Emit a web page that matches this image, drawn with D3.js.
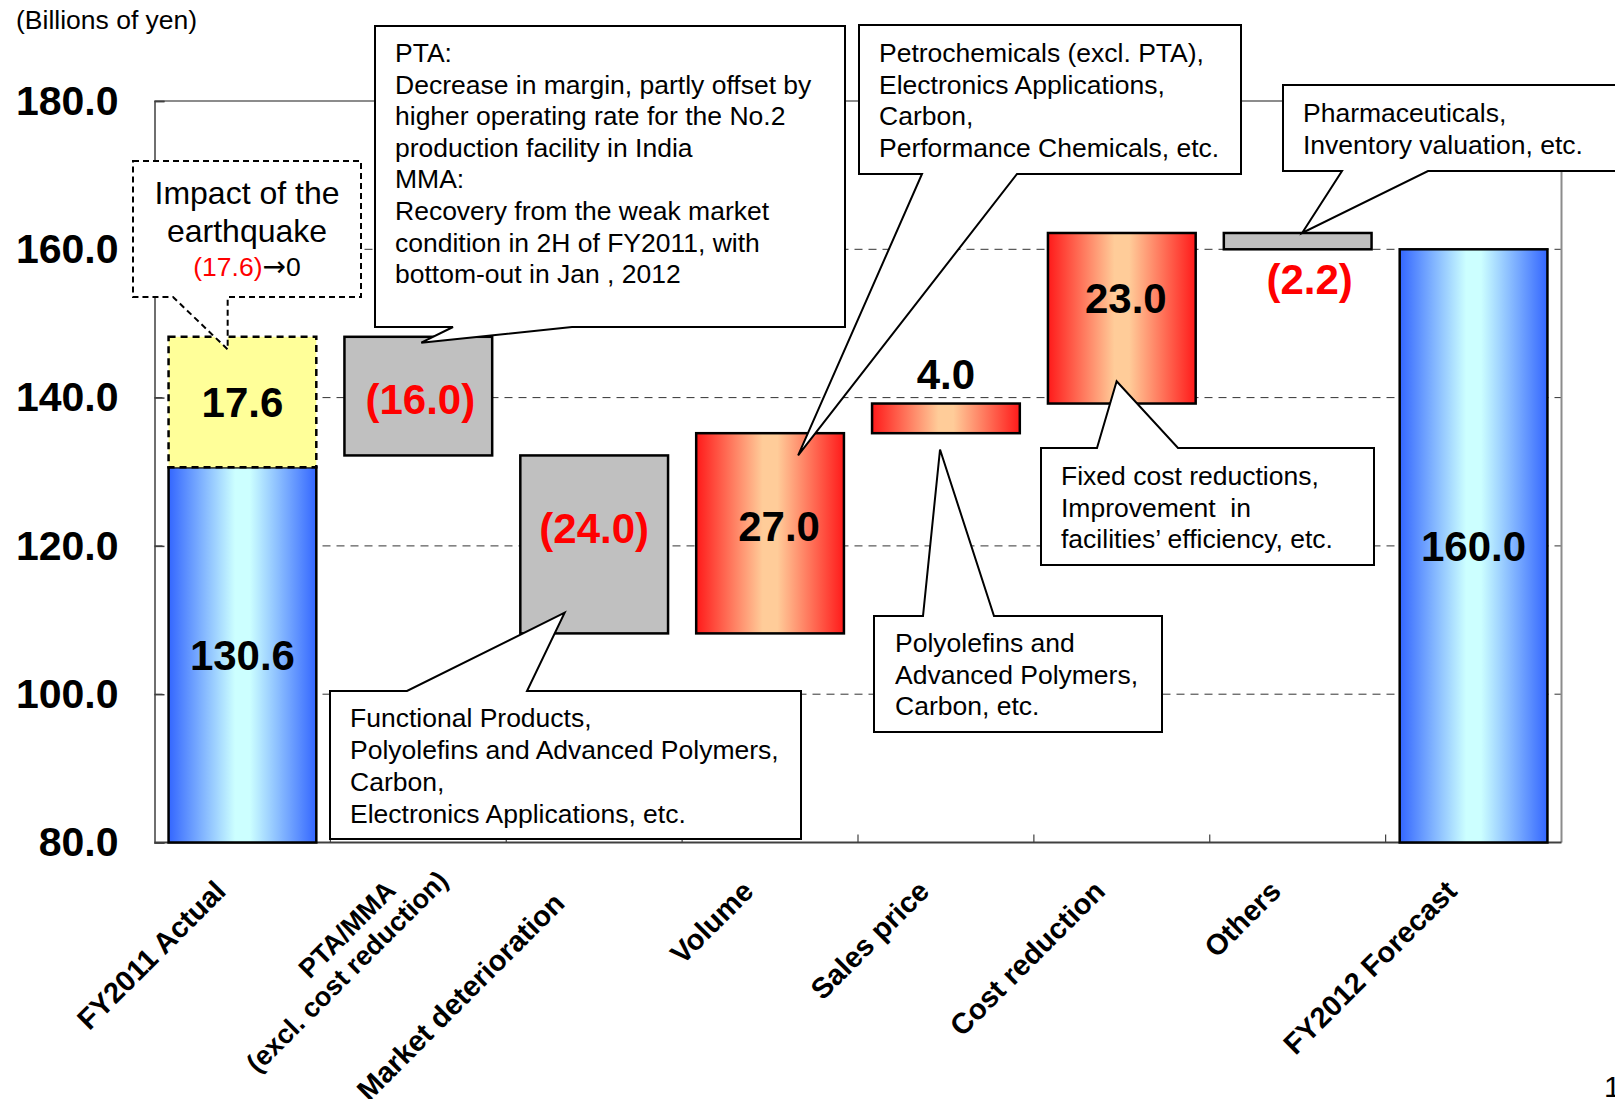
<!DOCTYPE html>
<html>
<head>
<meta charset="utf-8">
<script src="https://cdn.jsdelivr.net/npm/d3@7"></script>
<style>
  html, body { margin: 0; padding: 0; background: #fff; }
  svg { display: block; font-family: "Liberation Sans", Arial, sans-serif; }
</style>
</head>
<body>
<svg id="chart" width="1615" height="1099"></svg>
<script>
(function () {
  "use strict";

  // ---- data ----
  const categories = [
    "FY2011 Actual",
    "PTA/MMA|(excl. cost reduction)",
    "Market deterioration",
    "Volume",
    "Sales price",
    "Cost reduction",
    "Others",
    "FY2012 Forecast",
  ];
  const baseValue = 130.6;       // FY2011 actual
  const quakeValue = 17.6;       // impact of the earthquake
  const deltas = [-16.0, -24.0, 27.0, 4.0, 23.0, -2.2];
  const totalValue = 160.0;      // FY2012 forecast
  const yTicks = [80, 100, 120, 140, 160, 180];
  const yDomain = [80, 180];

  const plot = { left: 154.5, right: 1561.5, top: 101, bottom: 842.5 };
  const noteSize = 26.5;

  const svg = d3.select("#chart");
  const x = d3.scaleBand().domain(categories).range([plot.left, plot.right])
    .paddingInner(0.16).paddingOuter(0.08);
  const y = d3.scaleLinear().domain(yDomain).range([plot.bottom, plot.top]);
  const bw = x.bandwidth();
  const fmt = (v) => (v < 0 ? "(" + Math.abs(v).toFixed(1) + ")" : v.toFixed(1));

  // gradients
  const defs = svg.append("defs");
  function hGrad(id, edge, mid) {
    const g = defs.append("linearGradient").attr("id", id)
      .attr("x1", 0).attr("x2", 1).attr("y1", 0).attr("y2", 0);
    g.append("stop").attr("offset", 0).attr("stop-color", edge);
    g.append("stop").attr("offset", 0.45).attr("stop-color", mid);
    g.append("stop").attr("offset", 0.55).attr("stop-color", mid);
    g.append("stop").attr("offset", 1).attr("stop-color", edge);
  }
  hGrad("blueGrad", "#3366ff", "#ccffff");
  hGrad("redGrad", "#ff1a1a", "#ffcc99");

  // build waterfall bars
  const bars = [];
  bars.push({ cat: categories[0], lo: yDomain[0], hi: baseValue, kind: "total", label: fmt(baseValue) });
  bars.push({ cat: categories[0], lo: baseValue, hi: baseValue + quakeValue, kind: "quake", label: fmt(quakeValue) });
  let run = baseValue + quakeValue;
  deltas.forEach((d, i) => {
    const next = run + d;
    bars.push({
      cat: categories[i + 1],
      lo: Math.min(run, next), hi: Math.max(run, next),
      kind: d < 0 ? "down" : "up", label: fmt(d), value: d,
    });
    run = next;
  });
  bars.push({ cat: categories[7], lo: yDomain[0], hi: totalValue, kind: "total", label: fmt(totalValue) });

  // ---- gridlines & frame ----
  const grid = svg.append("g");
  grid.selectAll("line.grid")
    .data(yTicks.filter((t) => t > yDomain[0] && t < yDomain[1]))
    .enter().append("line")
    .attr("x1", plot.left).attr("x2", plot.right)
    .attr("y1", (d) => y(d)).attr("y2", (d) => y(d))
    .attr("stroke", "#333").attr("stroke-width", 1).attr("stroke-dasharray", "8,6");
  grid.append("line").attr("x1", plot.left).attr("x2", plot.right)
    .attr("y1", plot.top).attr("y2", plot.top).attr("stroke", "#8c8c8c").attr("stroke-width", 2);
  grid.append("line").attr("x1", plot.right).attr("x2", plot.right)
    .attr("y1", plot.top).attr("y2", plot.bottom).attr("stroke", "#8c8c8c").attr("stroke-width", 2);

  // y axis
  const yAxis = svg.append("g").attr("transform", `translate(${plot.left},0)`)
    .call(d3.axisLeft(y).tickValues(yTicks).tickSize(-10).tickPadding(36).tickFormat(d3.format(".1f")));
  yAxis.select(".domain").attr("stroke", "#404040").attr("stroke-width", 1.5);
  yAxis.selectAll(".tick line").attr("stroke", "#404040").attr("stroke-width", 1.5);
  yAxis.selectAll(".tick text")
    .attr("font-family", '"Liberation Sans", Arial, sans-serif')
    .attr("font-size", 41).attr("font-weight", "bold").attr("fill", "#000");

  // x axis line and category boundary ticks
  svg.append("line").attr("x1", plot.left).attr("x2", plot.right)
    .attr("y1", plot.bottom).attr("y2", plot.bottom).attr("stroke", "#404040").attr("stroke-width", 2);
  const gap = (x.step() * x.paddingInner()) / 2;
  svg.selectAll("line.xtick").data(categories.slice(1)).enter().append("line")
    .attr("x1", (c) => x(c) - gap).attr("x2", (c) => x(c) - gap)
    .attr("y1", plot.bottom).attr("y2", plot.bottom - 8)
    .attr("stroke", "#404040").attr("stroke-width", 1.2);

  // ---- bars ----
  const fillOf = { total: "url(#blueGrad)", quake: "#ffff99", down: "#c0c0c0", up: "url(#redGrad)" };
  svg.append("g").selectAll("rect").data(bars).enter().append("rect")
    .attr("x", (d) => x(d.cat)).attr("width", bw)
    .attr("y", (d) => y(d.hi)).attr("height", (d) => y(d.lo) - y(d.hi))
    .attr("fill", (d) => fillOf[d.kind])
    .attr("stroke", "#000").attr("stroke-width", 2.5)
    .attr("stroke-dasharray", (d) => (d.kind === "quake" ? "7,5" : null));

  // ---- callouts ----
  function callout(box, tip, base, side) {
    const [x0, y0, x1, y1] = box;
    const tx = x(categories[tip.cat]) + bw * tip.fx, ty = y(tip.v);
    let p;
    if (side === "bottom") {
      p = `M${x0},${y0}H${x1}V${y1}H${base[1]}L${tx},${ty}L${base[0]},${y1}H${x0}Z`;
    } else {
      p = `M${x0},${y0}H${base[0]}L${tx},${ty}L${base[1]},${y0}H${x1}V${y1}H${x0}Z`;
    }
    svg.append("path").attr("d", p).attr("fill", "#fff").attr("stroke", "#000")
      .attr("stroke-width", 2).attr("stroke-linejoin", "miter");
  }
  function lines(textLines, x0, y0, step) {
    const t = svg.append("text").attr("font-size", noteSize).attr("fill", "#000")
      .style("white-space", "pre");
    textLines.forEach((s, i) => {
      t.append("tspan").attr("x", x0).attr("y", y0 + i * step).text(s);
    });
  }

  callout([375, 26, 845, 327], { cat: 1, fx: 0.52, v: 147.4 }, [453, 572], "bottom");
  lines([
    "PTA:",
    "Decrease in margin, partly offset by",
    "higher operating rate for the No.2",
    "production facility in India",
    "MMA:",
    "Recovery from the weak market",
    "condition in 2H of FY2011, with",
    "bottom-out in Jan , 2012",
  ], 395, 62, 31.6);

  callout([859, 25, 1241, 174], { cat: 3, fx: 0.69, v: 132.2 }, [922, 1017], "bottom");
  lines([
    "Petrochemicals (excl. PTA),",
    "Electronics Applications,",
    "Carbon,",
    "Performance Chemicals, etc.",
  ], 879, 62, 31.7);

  callout([1283, 85, 1640, 171], { cat: 6, fx: 0.53, v: 162.2 }, [1342, 1428], "bottom");
  lines(["Pharmaceuticals,", "Inventory valuation, etc."], 1303, 122, 32);

  callout([330, 691, 801, 839], { cat: 2, fx: 0.30, v: 111.0 }, [407, 527], "top");
  lines([
    "Functional Products,",
    "Polyolefins and Advanced Polymers,",
    "Carbon,",
    "Electronics Applications, etc.",
  ], 350, 727, 32);

  callout([874, 616, 1162, 732], { cat: 4, fx: 0.46, v: 133.0 }, [923, 994], "top");
  lines(["Polyolefins and", "Advanced Polymers,", "Carbon, etc."], 895, 652, 31.5);

  callout([1041, 448, 1374, 565], { cat: 5, fx: 0.465, v: 142.2 }, [1097, 1178], "top");
  lines(["Fixed cost reductions,", "Improvement  in", "facilities\u2019 efficiency, etc."], 1061, 485, 31.5);

  // earthquake note (dashed)
  (function () {
    const tx = x(categories[0]) + bw * 0.40, ty = y(146.5);
    svg.append("path")
      .attr("d", `M133,161H361V297H${tx}V${ty}L173,297H133Z`)
      .attr("fill", "#fff").attr("stroke", "#000").attr("stroke-width", 2)
      .attr("stroke-dasharray", "6,4");
    const cx = 247;
    svg.append("text").attr("x", cx).attr("y", 204).attr("text-anchor", "middle")
      .attr("font-size", 32).text("Impact of the");
    svg.append("text").attr("x", cx).attr("y", 242).attr("text-anchor", "middle")
      .attr("font-size", 32).text("earthquake");
    const t = svg.append("text").attr("x", cx).attr("y", 276).attr("text-anchor", "middle")
      .attr("font-size", 26.5);
    t.append("tspan").attr("fill", "#ff0000").text(fmt(-quakeValue));
    t.append("tspan").attr("fill", "#000").attr("font-family", '"DejaVu Sans", sans-serif')
      .attr("font-size", 28).text("\u2192");
    t.append("tspan").attr("fill", "#000").text("0");
  })();

  // ---- value labels ----
  // place: "mid" = inside bar centre (+dy), "above" / "below" = outside the bar
  const labelPlace = [
    { place: "mid", dx: 0, dy: 0 },
    { place: "mid", dx: 0, dy: 0 },
    { place: "mid", dx: 2, dy: 3 },
    { place: "mid", dx: 0, dy: -16 },
    { place: "mid", dx: 9, dy: -7 },
    { place: "above", dx: 0, dy: -15 },
    { place: "mid", dx: 4, dy: -20 },
    { place: "below", dx: 12, dy: 45 },
    { place: "mid", dx: 0, dy: 0 },
  ];
  svg.append("g").selectAll("text").data(bars).enter().append("text")
    .attr("x", (d, i) => x(d.cat) + bw / 2 + labelPlace[i].dx)
    .attr("y", (d, i) => {
      const lp = labelPlace[i];
      if (lp.place === "above") return y(d.hi) + lp.dy;
      if (lp.place === "below") return y(d.lo) + lp.dy;
      return (y(d.hi) + y(d.lo)) / 2 + 15 + lp.dy;
    })
    .attr("text-anchor", "middle").attr("font-size", 42).attr("font-weight", "bold")
    .attr("fill", (d) => (d.kind === "down" ? "#ff0000" : "#000"))
    .text((d) => d.label);

  // ---- category labels ----
  const catOffset = {
    "Market deterioration": [-28, 905],
    "PTA/MMA|(excl. cost reduction)": [-21, 892],
  };
  const catG = svg.append("g");
  categories.forEach((c) => {
    const off = catOffset[c] || [-15, 893];
    const ax = x(c) + bw / 2 + off[0], ay = off[1];
    const parts = c.split("|");
    const t = catG.append("text")
      .attr("transform", `translate(${ax},${ay}) rotate(-45)`)
      .attr("text-anchor", "end").attr("font-size", parts[1] ? 27 : 29).attr("font-weight", "bold");
    t.append("tspan").attr("x", 0).attr("y", 0).text(parts[0]);
    if (parts[1]) t.append("tspan").attr("x", 44).attr("y", 30).text(parts[1]);
  });

  // ---- unit and page number ----
  svg.append("text").attr("x", 16).attr("y", 29).attr("font-size", 26.5).text("(Billions of yen)");
  svg.append("text").attr("x", 1604).attr("y", 1097).attr("font-size", 30).text("1");
})();
</script>
</body>
</html>
